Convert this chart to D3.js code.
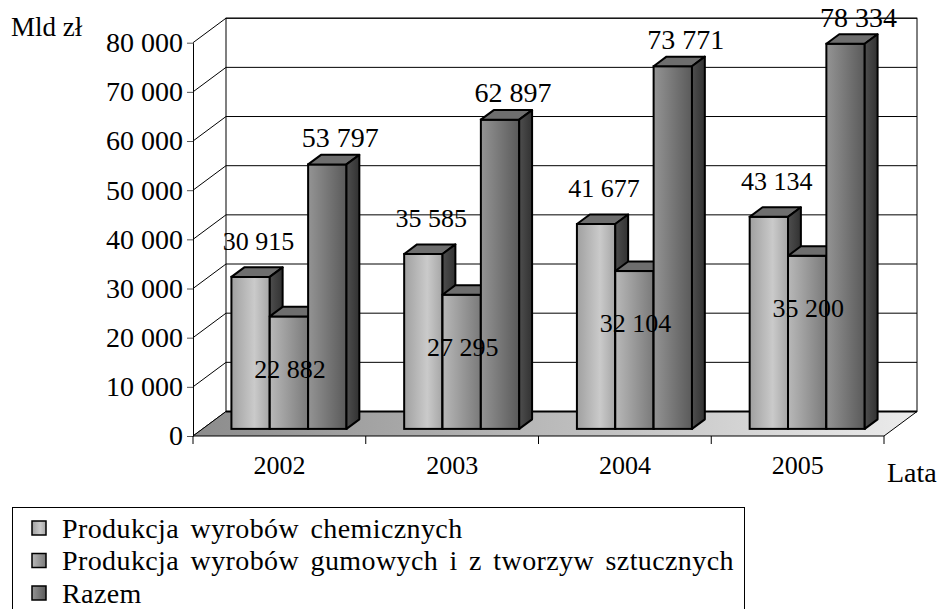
<!DOCTYPE html>
<html>
<head>
<meta charset="utf-8">
<script src="https://cdn.jsdelivr.net/npm/d3@7"></script>
<style>
  body { margin: 0; background: #fff; }
</style>
</head>
<body>
<div id="chart"></div>
<script>
const years = ["2002", "2003", "2004", "2005"];
const seriesNames = [
    "Produkcja wyrobów chemicznych",
    "Produkcja wyrobów gumowych i z tworzyw sztucznych",
    "Razem"
];
const chemiczne = [30915, 35585, 41677, 43134];
const gumowe = [22882, 27295, 32104, 35200];
const razem = [53797, 62897, 73771, 78334];
const yTicks = [0, 10000, 20000, 30000, 40000, 50000, 60000, 70000, 80000];
const yTitle = "Mld zł";
const xTitle = "Lata";

const series = [chemiczne, gumowe, razem];
const FONT = "'Liberation Serif', 'Times New Roman', 'DejaVu Serif', serif";

const svg = d3.select("#chart").append("svg")
    .attr("width", 942)
    .attr("height", 609)
    .attr("font-family", FONT)
    .style("font-family", FONT);
const defs = svg.append("defs");

function gradient(id, stops) {
    const g = defs.append("linearGradient").attr("id", id)
        .attr("x1", 0).attr("y1", 0).attr("x2", 1).attr("y2", 0);
    stops.forEach(s => g.append("stop").attr("offset", s[0]).attr("stop-color", s[1]));
}
gradient("front0", [[0, "#a0a0a0"], [0.6, "#cacaca"], [1, "#a6a6a6"]]);
gradient("front1", [[0, "#b8b8b8"], [1, "#7a7a7a"]]);
gradient("front2", [[0, "#949494"], [1, "#5a5a5a"]]);
gradient("side", [[0, "#4e4e4e"], [1, "#323232"]]);
gradient("floor", [[0, "#8c8c8c"], [0.6, "#c4c4c4"], [1, "#ececec"]]);

const fmt = d3.formatLocale({ decimal: ",", thousands: "\u00a0", grouping: [3], currency: ["", ""] }).format(",d");

// scales
const x = d3.scaleBand().domain(years).range([193, 884]).paddingInner(0.334).paddingOuter(0.167);
const xs = d3.scaleBand().domain(d3.range(series.length)).range([0, x.bandwidth()]);
const y = d3.scaleLinear().domain([0, 80000]).range([436, 42.7]);
const depth = { dx: 33, dy: -24.5 };
const barFront = 0.29, barBack = 0.68;

const x0 = x.range()[0], x1 = x.range()[1];

// walls
const walls = svg.append("g");
walls.append("rect")
    .attr("x", x0 + depth.dx).attr("y", y(80000) + depth.dy)
    .attr("width", x1 - x0).attr("height", y(0) - y(80000))
    .attr("fill", "#fff").attr("stroke", "#000").attr("stroke-width", 1);
walls.selectAll("line.grid").data(yTicks).enter().append("line")
    .attr("x1", x0 + depth.dx).attr("x2", x1 + depth.dx)
    .attr("y1", d => y(d) + depth.dy).attr("y2", d => y(d) + depth.dy)
    .attr("stroke", "#000").attr("stroke-width", 1);
walls.selectAll("line.side").data(yTicks).enter().append("line")
    .attr("x1", x0).attr("x2", x0 + depth.dx)
    .attr("y1", d => y(d)).attr("y2", d => y(d) + depth.dy)
    .attr("stroke", "#000").attr("stroke-width", 1);

// floor
const floorPts = [[x0, y(0)], [x1, y(0)], [x1 + depth.dx, y(0) + depth.dy], [x0 + depth.dx, y(0) + depth.dy]];
svg.append("polygon")
    .attr("points", floorPts.map(p => p.join(",")).join(" "))
    .attr("fill", "url(#floor)").attr("stroke", "#000").attr("stroke-width", 1);
svg.append("line")
    .attr("x1", x0 + depth.dx).attr("x2", x1 + depth.dx)
    .attr("y1", y(0) + depth.dy).attr("y2", y(0) + depth.dy)
    .attr("stroke", "#000").attr("stroke-width", 2);

// y axis
const yAxis = svg.append("g")
    .attr("transform", "translate(" + x0 + ",0)")
    .call(d3.axisLeft(y).tickValues(yTicks).tickFormat(fmt).tickSize(6).tickSizeOuter(0).tickPadding(4));
yAxis.attr("font-family", FONT);
yAxis.select(".domain").attr("stroke", "#000");
yAxis.selectAll(".tick line").attr("stroke", "#555");
yAxis.selectAll("text").style("font-size", "28px").style("font-family", FONT).attr("fill", "#000");

// x axis
const xAxis = svg.append("g")
    .attr("transform", "translate(0," + y(0) + ")")
    .call(d3.axisBottom(x).tickSize(0).tickPadding(20));
xAxis.attr("font-family", FONT);
xAxis.select(".domain").remove();
xAxis.selectAll("text").style("font-size", "26px").style("font-family", FONT).attr("fill", "#000");
svg.selectAll("line.xtick").data(d3.range(years.length + 1)).enter().append("line")
    .attr("x1", i => x0 + i * x.step()).attr("x2", i => x0 + i * x.step())
    .attr("y1", y(0)).attr("y2", y(0) + 8)
    .attr("stroke", "#000").attr("stroke-width", 1);

// bars
const fdx = barFront * depth.dx, fdy = barFront * depth.dy;
const ddx = (barBack - barFront) * depth.dx, ddy = (barBack - barFront) * depth.dy;
const w = xs.bandwidth();
const barsG = svg.append("g");
const labels = [];
years.forEach((yr, i) => {
    series.forEach((s, j) => {
        const v = s[i];
        const bx = x(yr) + xs(j) + fdx;
        const yt = y(v) + fdy, yb = y(0) + fdy;
        const g = barsG.append("g");
        g.append("rect").attr("x", bx).attr("y", yt).attr("width", w).attr("height", yb - yt)
            .attr("fill", "url(#front" + j + ")").attr("stroke", "#000").attr("stroke-width", 2);
        g.append("polygon")
            .attr("points", [[bx, yt], [bx + w, yt], [bx + w + ddx, yt + ddy], [bx + ddx, yt + ddy]].map(p => p.join(",")).join(" "))
            .attr("fill", "#6e6e6e").attr("stroke", "#000").attr("stroke-width", 2).attr("stroke-linejoin", "round");
        g.append("polygon")
            .attr("points", [[bx + w, yt], [bx + w + ddx, yt + ddy], [bx + w + ddx, yb + ddy], [bx + w, yb]].map(p => p.join(",")).join(" "))
            .attr("fill", "url(#side)").attr("stroke", "#000").attr("stroke-width", 2).attr("stroke-linejoin", "round");
        if (j === 0) labels.push({ x: bx + w / 2 + 8, y: yt - 36, v: v, size: 26 });
        if (j === 1) labels.push({ x: bx + w / 2 + 1, y: yt + 52, v: v, size: 26 });
        if (j === 2) labels.push({ x: bx + w / 2 + 13, y: yt - 27, v: v, size: 28 });
    });
});

svg.append("g").selectAll("text").data(labels).enter().append("text")
    .attr("x", d => d.x).attr("y", d => d.y).attr("dy", "0.35em")
    .attr("text-anchor", "middle")
    .style("font-family", FONT)
    .style("font-size", d => d.size + "px")
    .text(d => fmt(d.v));

// titles
svg.append("text").attr("x", 11).attr("y", 36).style("font-family", FONT).style("font-size", "27px").text(yTitle);
svg.append("text").attr("x", 887).attr("y", 482).style("font-family", FONT).style("font-size", "28px").text(xTitle);

// legend
const legend = svg.append("g");
legend.append("rect").attr("x", 12.5).attr("y", 507.5).attr("width", 732).attr("height", 120)
    .attr("fill", "#fff").attr("stroke", "#000").attr("stroke-width", 1);
const rowY = d3.scalePoint().domain(d3.range(seriesNames.length)).range([528, 593]);
const rows = legend.selectAll("g.row").data(seriesNames).enter().append("g");
rows.append("rect")
    .attr("x", 32).attr("y", (d, i) => rowY(i) - 7).attr("width", 14).attr("height", 14)
    .attr("fill", (d, i) => "url(#front" + i + ")").attr("stroke", "#000").attr("stroke-width", 1.5);
rows.append("text")
    .attr("x", 62).attr("y", (d, i) => rowY(i)).attr("dy", "0.35em")
    .style("font-family", FONT)
    .style("font-size", "28px")
    .style("letter-spacing", "0.4px")
    .style("word-spacing", "4px")
    .text(d => d);
</script>
</body>
</html>
